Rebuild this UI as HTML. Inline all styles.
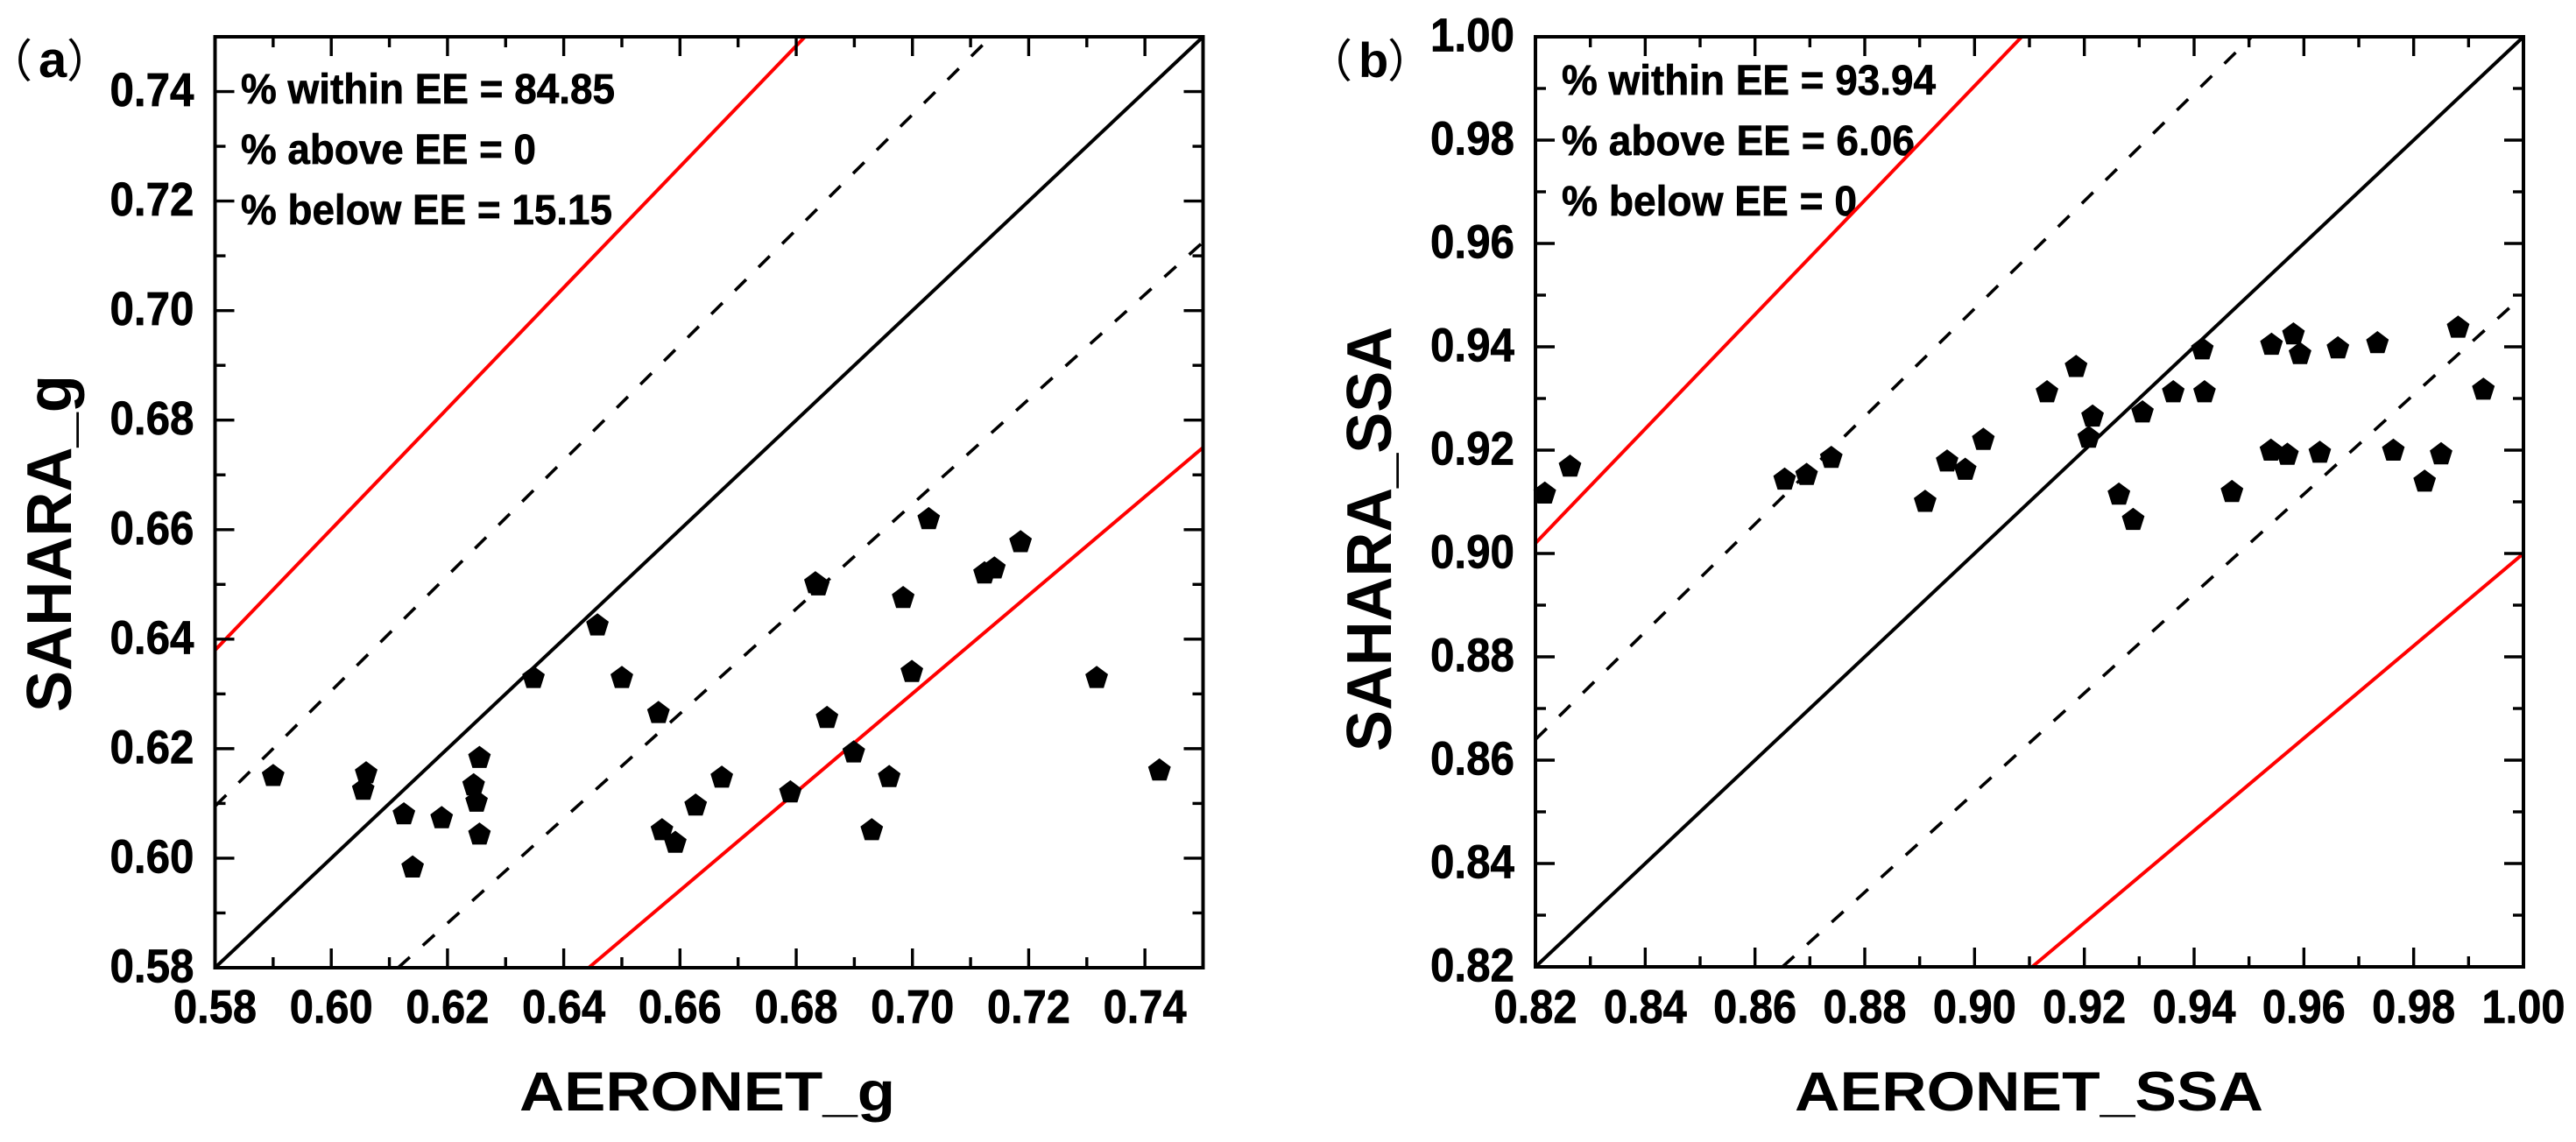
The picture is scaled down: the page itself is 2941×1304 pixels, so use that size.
<!DOCTYPE html>
<html lang="en">
<head>
<meta charset="utf-8">
<title>SAHARA vs AERONET scatter plots</title>
<style>
html,body{margin:0;padding:0;background:#fff;width:2941px;height:1304px;overflow:hidden}
svg{display:block}
text{font-family:"Liberation Sans","Noto Sans CJK SC",sans-serif;font-weight:bold;fill:#000}
.heavy{stroke:#000;stroke-width:0.7px}
</style>
</head>
<body>
<svg id="figure" xmlns="http://www.w3.org/2000/svg" width="2941" height="1304" viewBox="0 0 2941 1304">
  <rect width="2941" height="1304" fill="#fff"/>
  <text y="88"><tspan x="-15" font-size="52" font-weight="normal" font-family="Noto Sans CJK SC, sans-serif">（</tspan><tspan x="44" font-size="58">a</tspan><tspan x="76" font-size="52" font-weight="normal" font-family="Noto Sans CJK SC, sans-serif">）</tspan></text>
  <text y="88"><tspan x="1492" font-size="52" font-weight="normal" font-family="Noto Sans CJK SC, sans-serif">（</tspan><tspan x="1551" font-size="56">b</tspan><tspan x="1584" font-size="52" font-weight="normal" font-family="Noto Sans CJK SC, sans-serif">）</tspan></text>
  <text x="593" y="1268" font-size="63" textLength="429" lengthAdjust="spacingAndGlyphs">AERONET_g</text>
  <text x="2049" y="1268" font-size="63" textLength="535" lengthAdjust="spacingAndGlyphs">AERONET_SSA</text>
  <text transform="translate(81 813) rotate(-90)" font-size="72" textLength="385" lengthAdjust="spacingAndGlyphs">SAHARA_g</text>
  <text transform="translate(1588 858) rotate(-90)" font-size="72" textLength="485" lengthAdjust="spacingAndGlyphs">SAHARA_SSA</text>
  <text class="heavy" x="275" y="118" font-size="48" textLength="427" lengthAdjust="spacingAndGlyphs">% within EE = 84.85</text>
  <text class="heavy" x="275" y="187" font-size="48" textLength="337" lengthAdjust="spacingAndGlyphs">% above EE = 0</text>
  <text class="heavy" x="275" y="256" font-size="48" textLength="424" lengthAdjust="spacingAndGlyphs">% below EE = 15.15</text>
  <text class="heavy" x="1783" y="108" font-size="48" textLength="427" lengthAdjust="spacingAndGlyphs">% within EE = 93.94</text>
  <text class="heavy" x="1783" y="177" font-size="48" textLength="403" lengthAdjust="spacingAndGlyphs">% above EE = 6.06</text>
  <text class="heavy" x="1783" y="246" font-size="48" textLength="337" lengthAdjust="spacingAndGlyphs">% below EE = 0</text>
</svg>
<script>
// Panel (a) data: asymmetry factor g
const gTickLabels = ['0.58','0.60','0.62','0.64','0.66','0.68','0.70','0.72','0.74'];
const gMinorTicks = [0.59,0.61,0.63,0.65,0.67,0.69,0.71,0.73,0.75];
const gAeronet = [0.5900,0.6060,0.6055,0.6125,0.6140,0.6190,0.6245,0.6250,0.6255,0.6255,0.6348,0.6458,0.6500,0.6563,0.6569,0.6592,0.6627,0.6672,0.6790,0.6833,0.6838,0.6853,0.6899,0.6930,0.6960,0.6984,0.6999,0.7028,0.7124,0.7141,0.7186,0.7317,0.7425];
const gSahara = [0.6152,0.6157,0.6127,0.6082,0.5985,0.6075,0.6135,0.6105,0.6045,0.6185,0.6331,0.6427,0.6331,0.6267,0.6053,0.6030,0.6098,0.6149,0.6122,0.6504,0.6500,0.6258,0.6195,0.6053,0.6150,0.6477,0.6342,0.6621,0.6522,0.6531,0.6579,0.6331,0.6162];
const gIdentity = [0.58,0.58,0.75,0.75];
const gDashUpper = [0.58,0.6095,0.7135,0.75];
const gDashLower = [0.6115,0.58,0.75,0.7125];
const gRedUpper = [0.58,0.638,0.6815,0.75];
const gRedLower = [0.6443,0.58,0.75,0.675];

// Panel (b) data: single scattering albedo
const ssaTickLabels = ['0.82','0.84','0.86','0.88','0.90','0.92','0.94','0.96','0.98','1.00'];
const ssaMinorTicks = [0.83,0.85,0.87,0.89,0.91,0.93,0.95,0.97,0.99];
const ssaAeronet = [0.8217,0.8263,0.8654,0.8694,0.8739,0.8910,0.8950,0.8983,0.9016,0.9132,0.9185,0.9215,0.9208,0.9263,0.9289,0.9306,0.9362,0.9415,0.9419,0.9469,0.9541,0.9581,0.9593,0.9540,0.9570,0.9629,0.9662,0.9734,0.9763,0.9820,0.9850,0.9881,0.9927];
const ssaSahara = [0.9118,0.9170,0.9145,0.9154,0.9187,0.9102,0.9180,0.9164,0.9222,0.9314,0.9363,0.9267,0.9226,0.9116,0.9067,0.9275,0.9314,0.9397,0.9314,0.9121,0.9406,0.9426,0.9388,0.9201,0.9193,0.9197,0.9399,0.9409,0.9201,0.9141,0.9194,0.9439,0.9319];
const ssaIdentity = [0.82,0.82,1.00,1.00];
const ssaDashUpper = [0.82,0.864,0.9505,1.00];
const ssaDashLower = [0.8650,0.82,1.00,0.95];
const ssaRedUpper = [0.82,0.902,0.9086,1.00];
const ssaRedLower = [0.9105,0.82,1.00,0.90];

const SVG_NS = 'http://www.w3.org/2000/svg';
const figure = document.getElementById('figure');

function make(tag, attrs, parent) {
  const el = document.createElementNS(SVG_NS, tag);
  for (const k in attrs) el.setAttribute(k, attrs[k]);
  parent.appendChild(el);
  return el;
}

function drawPanel(p) {
  const sx = (p.right - p.left) / (p.xMax - p.xMin);
  const sy = (p.bottom - p.top) / (p.yMax - p.yMin);
  const xAxis = v => p.left + (v - p.xMin) * sx;
  const yAxis = v => p.bottom - (v - p.yMin) * sy;

  const group = make('g', {}, figure);
  
  

  // reference lines
  const drawLine = (c, name, stroke, width, dash) => {
    const line = make('line', {x1: xAxis(c[0]), y1: yAxis(c[1]), x2: xAxis(c[2]), y2: yAxis(c[3]), stroke: stroke, 'stroke-width': width}, group);
    if (dash) line.setAttribute('stroke-dasharray', dash);
    
    
  };
  drawLine(p.redUpper, 'upper-red-line', '#ff0000', 4);
  drawLine(p.redLower, 'lower-red-line', '#ff0000', 4);
  drawLine(p.dashUpper, 'upper-dashed-line', '#000', 3.6, '18 20');
  drawLine(p.dashLower, 'lower-dashed-line', '#000', 3.6, '18 20');
  drawLine(p.identity, 'one-to-one-line', '#000', 4);

  // ticks and tick labels
  const drawTick = (v, len, isX, name) => {
    const pos = isX ? xAxis(v) : yAxis(v);
    const a = isX
      ? {x1: pos, x2: pos, y1: p.bottom, y2: p.bottom - len}
      : {y1: pos, y2: pos, x1: p.left, x2: p.left + len};
    const b = isX
      ? {x1: pos, x2: pos, y1: p.top, y2: p.top + len}
      : {y1: pos, y2: pos, x1: p.right, x2: p.right - len};
    for (const seg of [a, b]) {
      const tick = make('line', Object.assign({stroke: '#000', 'stroke-width': 3.4}, seg), group);
      
      
    }
  };
  p.labels.forEach(label => {
    const v = parseFloat(label);
    drawTick(v, 22, true, p.id + '-x-major-tick');
    drawTick(v, 22, false, p.id + '-y-major-tick');
    const xt = make('text', {x: xAxis(v), y: 1168, 'font-size': 54, 'text-anchor': 'middle', textLength: 95, lengthAdjust: 'spacingAndGlyphs', class: 'heavy'}, group);
    xt.textContent = label;
    
    
    const yt = make('text', {x: p.left - 24, y: yAxis(v) + 16.5, 'font-size': 54, 'text-anchor': 'end', textLength: 96, lengthAdjust: 'spacingAndGlyphs', class: 'heavy'}, group);
    yt.textContent = label;
    
    
  });
  p.minor.forEach(v => {
    if (v < p.xMax) drawTick(v, 12, true, p.id + '-x-minor-tick');
    if (v < p.yMax) drawTick(v, 12, false, p.id + '-y-minor-tick');
  });

  // frame
  const frame = make('rect', {x: p.left, y: p.top, width: p.right - p.left, height: p.bottom - p.top, fill: 'none', stroke: '#000', 'stroke-width': 4}, group);
  
  

  // points (pentagon markers)
  const R = 13.6;
  const shape = [];
  for (let i = 0; i < 5; i++) {
    const ang = -Math.PI / 2 + i * 2 * Math.PI / 5;
    shape.push([R * Math.cos(ang), 1.03 * R * Math.sin(ang) + 1.3]);
  }
  p.xs.forEach((xv, i) => {
    const cx = xAxis(xv);
    const cy = yAxis(p.ys[i]);
    const pts = shape.map(s => (cx + s[0]).toFixed(1) + ',' + (cy + s[1]).toFixed(1)).join(' ');
    const point = make('polygon', {points: pts, fill: '#000'}, group);
    
    
  });
}

drawPanel({
  id: 'panel-a', left: 245.5, right: 1373.5, top: 42, bottom: 1105,
  xMin: 0.58, xMax: 0.75, yMin: 0.58, yMax: 0.75,
  labels: gTickLabels, minor: gMinorTicks, xs: gAeronet, ys: gSahara,
  identity: gIdentity, dashUpper: gDashUpper, dashLower: gDashLower, redUpper: gRedUpper, redLower: gRedLower
});
drawPanel({
  id: 'panel-b', left: 1753, right: 2881, top: 42, bottom: 1104,
  xMin: 0.82, xMax: 1.00, yMin: 0.82, yMax: 1.00,
  labels: ssaTickLabels, minor: ssaMinorTicks, xs: ssaAeronet, ys: ssaSahara,
  identity: ssaIdentity, dashUpper: ssaDashUpper, dashLower: ssaDashLower, redUpper: ssaRedUpper, redLower: ssaRedLower
});
</script>
</body>
</html>
